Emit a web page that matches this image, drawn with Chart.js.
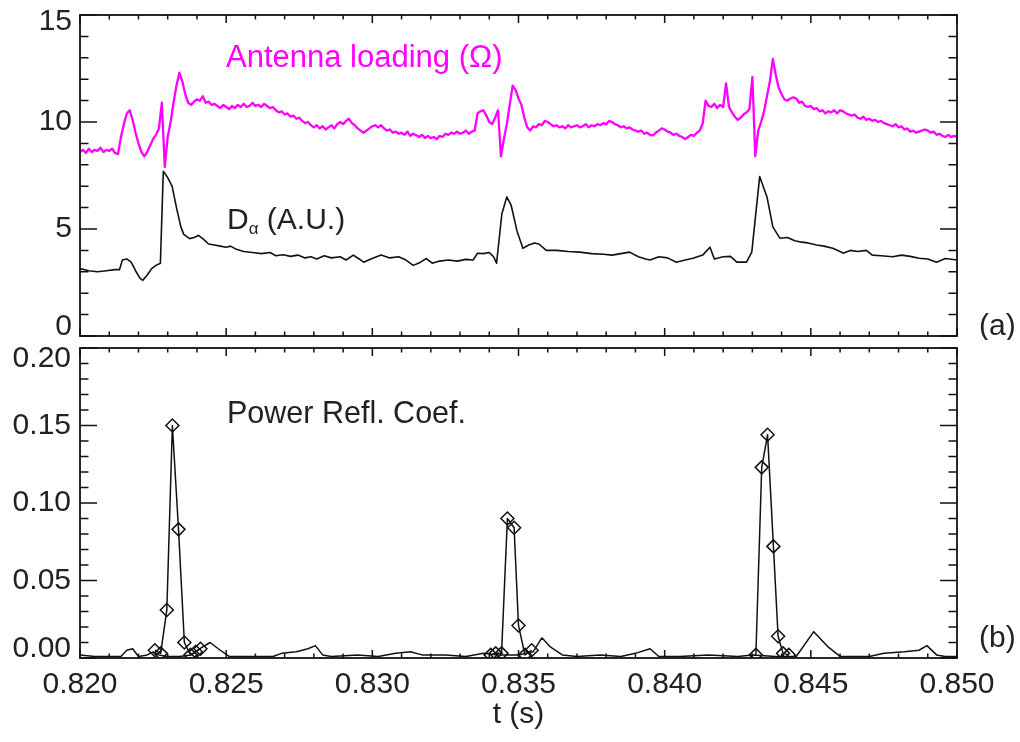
<!DOCTYPE html>
<html>
<head>
<meta charset="utf-8">
<script src="https://cdn.jsdelivr.net/npm/chart.js@4.4.1/dist/chart.umd.min.js"></script>
<style>
  html, body { margin: 0; padding: 0; background: #fff; }
  #wrap { position: relative; width: 1020px; height: 742px; }
  #top { position: absolute; left: 0; top: 0; }
  #bot { position: absolute; left: 0; top: 340px; }
</style>
</head>
<body>
<div id="wrap">
  <canvas id="top" width="1020" height="340"></canvas>
  <canvas id="bot" width="1020" height="402"></canvas>
</div>
<script>
// time in ms, shown on the axis in seconds
const xTicks = [820, 825, 830, 835, 840, 845, 850];
const xTickLabels = ['0.820', '0.825', '0.830', '0.835', '0.840', '0.845', '0.850'];

const yTicksA = [0, 5, 10, 15];
const yLabelsA = ['0', '5', '10', '15'];
const yTicksB = [0, 0.05, 0.10, 0.15, 0.20];
const yLabelsB = ['0.00', '0.05', '0.10', '0.15', '0.20'];

// antenna loading, sampled every 0.1 ms from 820.0 ms
const antennaT0 = 820;
const antennaDt = 0.1;
const antennaV = [
  8.6, 8.7, 8.55, 8.75, 8.6, 8.7, 8.65, 8.8, 8.6, 8.7,
  8.65, 8.75, 8.55, 8.5, 9.3, 9.9, 10.4, 10.55, 10.1, 9.5,
  9.0, 8.6, 8.4, 8.6, 8.9, 9.2, 9.4, 9.7, 10.9, 7.9,
  9.3, 10.0, 10.9, 11.7, 12.3, 11.9, 11.3, 10.9, 10.8, 10.95,
  11.05, 11.0, 11.2, 10.9, 10.95, 10.8, 10.85, 10.75, 10.65, 10.8,
  10.7, 10.6, 10.75, 10.65, 10.8, 10.7, 10.85, 10.7, 10.75, 10.9,
  10.75, 10.8, 10.7, 10.85, 10.75, 10.65, 10.7, 10.55, 10.45, 10.5,
  10.35, 10.4, 10.25, 10.3, 10.15, 10.2, 10.05, 9.95, 10.0, 9.85,
  9.75, 9.85, 9.7, 9.8, 9.65, 9.75, 9.85, 9.7, 9.9, 10.0,
  9.9, 10.05, 10.15, 9.95, 9.85, 9.7, 9.6, 9.5, 9.6, 9.7,
  9.8, 9.85, 9.75, 9.85, 9.7, 9.6, 9.65, 9.5, 9.55, 9.45,
  9.5, 9.4, 9.55, 9.35, 9.45, 9.38, 9.3, 9.4, 9.25, 9.35,
  9.24, 9.3, 9.2, 9.35, 9.3, 9.45, 9.4, 9.5, 9.45, 9.55,
  9.45, 9.5, 9.6, 9.45, 9.55, 9.6, 10.4, 10.5, 10.55, 10.3,
  10.0, 9.9, 10.2, 10.55, 8.4, 9.2, 9.9, 10.8, 11.7, 11.5,
  11.1, 10.8, 10.2, 9.75, 9.6, 9.8, 9.75, 9.9, 9.85, 10.05,
  10.0, 9.9, 9.8, 9.85, 9.75, 9.8, 9.7, 9.85, 9.75, 9.8,
  9.85, 9.75, 9.8, 9.9, 9.75, 9.85, 9.8, 9.9, 9.85, 9.95,
  9.9, 10.05, 10.0, 9.9, 9.85, 9.75, 9.8, 9.7, 9.75, 9.65,
  9.6, 9.55, 9.6, 9.45, 9.5, 9.4, 9.38, 9.5, 9.6, 9.7,
  9.65, 9.55, 9.5, 9.4, 9.45, 9.35, 9.3, 9.2, 9.3, 9.4,
  9.35, 9.5, 9.6, 9.93, 11.0, 10.75, 10.7, 10.85, 10.65, 10.8,
  10.7, 11.8, 10.7, 10.45, 10.25, 10.1, 10.2, 10.35, 10.45, 10.6,
  12.1, 8.4, 9.6, 10.0, 10.5, 11.2, 11.9, 12.95, 12.2, 11.6,
  11.3, 11.05, 11.0, 11.1, 11.15, 11.1, 10.9, 10.95, 10.75, 10.7,
  10.75, 10.6, 10.65, 10.5, 10.55, 10.4, 10.5, 10.45, 10.55, 10.4,
  10.55, 10.5, 10.4, 10.35, 10.3, 10.35, 10.2, 10.15, 10.25, 10.1,
  10.15, 10.05, 10.1, 10.0, 10.05, 9.95, 9.9, 9.85, 9.8, 9.9,
  9.75, 9.8, 9.65, 9.7, 9.55, 9.6, 9.5, 9.55, 9.6, 9.65,
  9.6, 9.5, 9.55, 9.4, 9.45, 9.35, 9.3, 9.4, 9.3, 9.35,
  9.3
];

// D-alpha
const dalphaT = [
  820.0, 820.3, 820.6, 820.9, 821.2, 821.35, 821.45, 821.6, 821.75, 821.9,
  822.05, 822.15, 822.3, 822.45, 822.6, 822.75, 822.85, 823.0, 823.15, 823.3,
  823.45, 823.55, 823.75, 823.9, 824.05, 824.2, 824.4, 824.6, 824.8, 825.0,
  825.15, 825.35, 825.6, 825.9, 826.2, 826.5, 826.7, 826.95, 827.2, 827.45,
  827.7, 827.9, 828.1, 828.35, 828.6, 828.9, 829.1, 829.35, 829.55, 829.7,
  829.95, 830.3, 830.6, 830.9, 831.15, 831.4, 831.65, 831.85, 832.05, 832.3,
  832.6, 832.9, 833.2, 833.45, 833.6, 833.8, 834.0, 834.15, 834.25, 834.43,
  834.6, 834.75, 834.95, 835.15, 835.35, 835.55, 835.7, 835.95, 836.3, 836.7,
  837.1, 837.5, 837.9, 838.2, 838.5, 838.8, 839.1, 839.35, 839.5, 839.8,
  840.1, 840.4, 840.7, 840.97, 841.3, 841.55, 841.7, 842.0, 842.25, 842.47,
  842.8, 842.98, 843.1, 843.25, 843.5, 843.7, 843.94, 844.2, 844.45, 844.62,
  844.9, 845.2, 845.45, 845.75, 846.0, 846.1, 846.35, 846.6, 846.9, 847.1,
  847.4, 847.8, 848.1, 848.4, 848.7, 849.0, 849.3, 849.6, 850.0
];
const dalphaV = [
  3.15, 3.05, 3.0, 3.05, 3.1, 3.1, 3.55, 3.6, 3.45, 3.05,
  2.7, 2.6, 2.85, 3.15, 3.3, 3.4, 7.7, 7.4, 7.0, 6.0,
  5.1, 4.75, 4.55, 4.6, 4.7, 4.55, 4.3, 4.25, 4.2, 4.15,
  4.2, 4.05, 3.95, 3.9, 3.85, 3.9, 3.75, 3.8, 3.72, 3.78,
  3.65, 3.7, 3.6, 3.75, 3.65, 3.7, 3.55, 3.78, 3.6, 3.45,
  3.6, 3.78, 3.65, 3.7, 3.55, 3.3, 3.45, 3.62, 3.4, 3.5,
  3.55, 3.5, 3.58, 3.55, 3.87, 3.85, 3.9, 3.7, 3.4, 5.7,
  6.5, 6.1, 4.9, 4.1, 4.25, 4.35, 4.3, 4.0, 4.0, 3.95,
  3.92, 3.85, 3.82, 3.78, 3.85, 3.92, 3.7, 3.6, 3.55, 3.7,
  3.65, 3.45, 3.55, 3.63, 3.78, 4.15, 3.6, 3.7, 3.72, 3.45,
  3.45, 3.92, 5.5, 7.45, 6.5, 5.1, 4.57, 4.6, 4.45, 4.4,
  4.35, 4.25, 4.2, 4.1, 3.95, 3.87, 4.0, 3.95, 4.0, 3.78,
  3.75, 3.7, 3.78, 3.72, 3.63, 3.6, 3.45, 3.62, 3.55
];

// power reflection coefficient, continuous trace
const reflT = [
  820.0, 820.5, 821.0, 821.4, 821.6, 821.8, 822.0, 822.3, 822.5, 822.7,
  823.0, 823.4, 823.8, 824.1, 824.45, 824.8, 825.1, 825.6, 826.0, 826.6,
  826.9, 827.4, 827.8, 828.05, 828.3, 828.6, 829.5, 830.2, 830.8, 831.3,
  831.7, 832.5, 833.2, 833.8, 834.3, 835.0, 835.5, 835.8, 836.1, 836.5,
  837.0, 837.8, 838.5, 839.0, 839.5, 839.8, 840.5, 841.5, 842.5, 843.0,
  843.8, 844.5, 845.1, 845.6, 846.0, 847.0, 847.5, 848.2, 848.7, 848.97,
  849.3, 849.6, 850.0
];
const reflV = [
  0.002, 0.001, 0.001, 0.001, 0.005, 0.006, 0.001, 0.002, 0.004, 0.002,
  0.001, 0.001, 0.002, 0.006, 0.010, 0.005, 0.001, 0.001, 0.001, 0.001,
  0.003, 0.004, 0.006, 0.008, 0.002, 0.001, 0.002, 0.001, 0.003, 0.004,
  0.002, 0.002, 0.001, 0.003, 0.002, 0.002, 0.004, 0.013, 0.007, 0.002,
  0.001, 0.002, 0.001, 0.003, 0.006, 0.001, 0.001, 0.002, 0.001, 0.002,
  0.001, 0.001, 0.017, 0.007, 0.001, 0.001, 0.003, 0.004, 0.005, 0.008,
  0.002, 0.001, 0.001
];

// power reflection coefficient, sampled points (diamonds), null = gap
const markT = [
  822.56, 822.76, 822.97, 823.16, 823.37, 823.57, 823.78, 823.96, 824.12, 829.0,
  834.05, 834.22, 834.42, 834.62, 834.85, 835.0, 835.22, 835.45, 839.0,
  843.12, 843.32, 843.52, 843.72, 843.88, 844.05, 844.25
];
const markV = [
  0.005, 0.003, 0.031, 0.150, 0.083, 0.010, 0.002, 0.004, 0.006, null,
  0.002, 0.003, 0.003, 0.090, 0.084, 0.021, 0.002, 0.005, null,
  0.002, 0.123, 0.144, 0.072, 0.014, 0.003, 0.002
];

const FONT = '"Liberation Sans", Arial, Helvetica, sans-serif';
const pairs = (ts, vs) => vs.map((v, i) => ({ x: ts[i], y: v }));
const antennaPts = antennaV.map((v, i) => ({ x: antennaT0 + i * antennaDt, y: v }));

// box with inward ticks on all four sides, y labels and in-plot texts
const framePlugin = {
  id: 'frame',
  afterDatasetsDraw(chart, args, o) {
    const { ctx, chartArea: a } = chart;
    const x = chart.scales.x, y = chart.scales.y;
    ctx.save();
    ctx.strokeStyle = '#111';
    ctx.lineWidth = 1.5;
    ctx.beginPath();
    const nx = Math.round((x.max - x.min) / o.xMinor);
    for (let i = 0; i <= nx; i++) {
      const px = x.getPixelForValue(x.min + i * o.xMinor);
      const len = i % o.xPer === 0 ? 8 : 4.5;
      ctx.moveTo(px, a.top); ctx.lineTo(px, a.top + len);
      ctx.moveTo(px, a.bottom); ctx.lineTo(px, a.bottom - len);
    }
    const ny = Math.round((y.max - y.min) / o.yMinor);
    for (let i = 0; i <= ny; i++) {
      const py = y.getPixelForValue(y.min + i * o.yMinor);
      const len = i % o.yPer === 0 ? 17 : 8.5;
      ctx.moveTo(a.left, py); ctx.lineTo(a.left + len, py);
      ctx.moveTo(a.right, py); ctx.lineTo(a.right - len, py);
    }
    ctx.stroke();
    ctx.lineWidth = 1.8;
    ctx.strokeRect(a.left, a.top, a.right - a.left, a.bottom - a.top);

    ctx.fillStyle = '#222';
    ctx.font = '30px ' + FONT;
    ctx.textAlign = 'right';
    ctx.textBaseline = 'middle';
    o.yTicks.forEach((v, i) => {
      let py = y.getPixelForValue(v);
      if (i === 0) py -= o.yShift[0];
      if (i === o.yTicks.length - 1) py += o.yShift[1];
      ctx.fillText(o.yLabels[i], o.labelX, py);
    });

    ctx.textAlign = 'left';
    ctx.textBaseline = 'alphabetic';
    o.texts.forEach(t => {
      let cx = t.x;
      t.parts.forEach(p => {
        ctx.font = p.size + 'px ' + FONT;
        ctx.fillStyle = t.color;
        ctx.fillText(p.s, cx, t.y + (p.dy || 0));
        cx += ctx.measureText(p.s).width;
      });
    });
    ctx.restore();
  }
};

new Chart(document.getElementById('top'), {
  type: 'line',
  data: {
    datasets: [{
      data: antennaPts,
      borderColor: '#ff00ff',
      borderWidth: 2.3,
      pointRadius: 0
    }, {
      data: pairs(dalphaT, dalphaV),
      borderColor: '#111',
      borderWidth: 1.6,
      pointRadius: 0
    }]
  },
  options: {
    responsive: false,
    animation: false,
    events: [],
    layout: { padding: { left: 80, right: 63, top: 15, bottom: 4 } },
    elements: { line: { tension: 0, borderJoinStyle: 'round' } },
    plugins: {
      legend: { display: false },
      tooltip: { enabled: false },
      frame: {
        xMinor: 1, xPer: 5, yMinor: 1, yPer: 5,
        yTicks: yTicksA, yLabels: yLabelsA, yShift: [9, 7], labelX: 72,
        texts: [
          { x: 226, y: 67, color: '#ff00ff', parts: [{ s: 'Antenna loading (Ω)', size: 31 }] },
          { x: 227, y: 229, color: '#222', parts: [{ s: 'D', size: 30 }, { s: 'α', size: 17, dy: 5 }, { s: ' (A.U.)', size: 30 }] },
          { x: 979, y: 335, color: '#222', parts: [{ s: '(a)', size: 30 }] }
        ]
      }
    },
    scales: {
      x: { type: 'linear', display: false, min: 820, max: 850 },
      y: { display: false, min: 0, max: 15 }
    }
  },
  plugins: [framePlugin]
});

new Chart(document.getElementById('bot'), {
  type: 'line',
  data: {
    datasets: [{
      data: pairs(reflT, reflV),
      borderColor: '#111',
      borderWidth: 1.5,
      pointRadius: 0
    }, {
      data: pairs(markT, markV),
      borderColor: '#111',
      borderWidth: 1.5,
      spanGaps: false,
      pointStyle: 'rectRot',
      pointRadius: 6.5,
      pointBorderWidth: 1.5,
      pointBorderColor: '#111',
      pointBackgroundColor: 'rgba(0,0,0,0)'
    }]
  },
  options: {
    responsive: false,
    animation: false,
    events: [],
    layout: { padding: { left: 80, right: 63, top: 5, bottom: 0 } },
    elements: { line: { tension: 0, borderJoinStyle: 'round' } },
    plugins: {
      legend: { display: false },
      tooltip: { enabled: false },
      frame: {
        xMinor: 1, xPer: 5, yMinor: 0.01, yPer: 5,
        yTicks: yTicksB, yLabels: yLabelsB, yShift: [9, 11], labelX: 71,
        texts: [
          { x: 227, y: 83, color: '#222', parts: [{ s: 'Power Refl. Coef.', size: 30.5 }] },
          { x: 979, y: 307, color: '#222', parts: [{ s: '(b)', size: 30 }] }
        ]
      }
    },
    scales: {
      x: {
        type: 'linear',
        min: 820,
        max: 850,
        grid: { display: false, drawTicks: false },
        border: { display: false },
        ticks: {
          stepSize: 5,
          autoSkip: false,
          maxRotation: 0,
          padding: 9,
          color: '#222',
          font: { family: FONT, size: 30 },
          callback: (v) => xTickLabels[xTicks.indexOf(v)] ?? ''
        },
        title: {
          display: true,
          text: 't (s)',
          color: '#222',
          font: { family: FONT, size: 30 },
          padding: { top: 0, bottom: 9 }
        },
        afterFit: (s) => { s.height = 84; }
      },
      y: { display: false, min: 0, max: 0.2 }
    }
  },
  plugins: [framePlugin]
});
</script>
</body>
</html>
